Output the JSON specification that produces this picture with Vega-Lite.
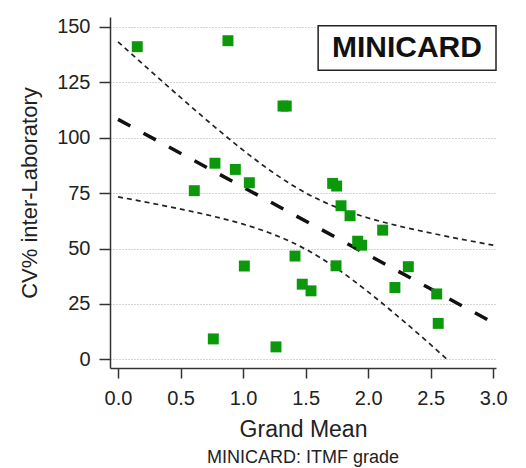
{
  "$schema": "https://vega.github.io/schema/vega-lite/v6.json",
  "width": 386,
  "height": 351,
  "autosize": "none",
  "padding": {"left": 110, "top": 17, "right": 30, "bottom": 100},
  "background": "white",
  "config": {
    "view": {"stroke": null},
    "font": "Liberation Sans",
    "axis": {
      "labelFont": "Liberation Sans",
      "titleFont": "Liberation Sans",
      "labelColor": "#222",
      "titleColor": "#222",
      "domainColor": "#333",
      "tickColor": "#333",
      "domainWidth": 1.5,
      "tickWidth": 1.5,
      "titleFontWeight": "normal"
    }
  },
  "title": {
    "text": "MINICARD: ITMF grade",
    "orient": "bottom",
    "anchor": "middle",
    "font": "Liberation Sans",
    "fontSize": 18,
    "fontWeight": "normal",
    "color": "#222",
    "offset": 8
  },
  "datasets": {
    "pts": [
      {"mean": 0.154, "cv": 141.1},
      {"mean": 0.879, "cv": 143.8},
      {"mean": 1.319, "cv": 114.3},
      {"mean": 1.345, "cv": 114.3},
      {"mean": 0.775, "cv": 88.5},
      {"mean": 0.938, "cv": 85.7},
      {"mean": 1.050, "cv": 79.7},
      {"mean": 0.610, "cv": 76.1},
      {"mean": 1.716, "cv": 79.4},
      {"mean": 1.748, "cv": 78.2},
      {"mean": 1.783, "cv": 69.3},
      {"mean": 1.855, "cv": 64.8},
      {"mean": 2.116, "cv": 58.3},
      {"mean": 1.916, "cv": 53.3},
      {"mean": 1.948, "cv": 51.5},
      {"mean": 1.415, "cv": 46.6},
      {"mean": 1.743, "cv": 42.2},
      {"mean": 1.010, "cv": 42.1},
      {"mean": 2.321, "cv": 41.8},
      {"mean": 1.473, "cv": 33.9},
      {"mean": 1.543, "cv": 30.9},
      {"mean": 2.214, "cv": 32.4},
      {"mean": 2.548, "cv": 29.5},
      {"mean": 2.560, "cv": 16.2},
      {"mean": 0.762, "cv": 9.2},
      {"mean": 1.263, "cv": 5.6}
    ],
    "fit": [
      {"mean": 0.0, "cv": 108.3},
      {"mean": 3.0, "cv": 16.5}
    ],
    "band": [
      {"band": "upper", "mean": 0.0, "cv": 143.3},
      {"band": "upper", "mean": 0.25, "cv": 130.65},
      {"band": "upper", "mean": 0.5, "cv": 118.2},
      {"band": "upper", "mean": 0.75, "cv": 106.0},
      {"band": "upper", "mean": 1.0, "cv": 94.4},
      {"band": "upper", "mean": 1.25, "cv": 83.9},
      {"band": "upper", "mean": 1.5, "cv": 75.1},
      {"band": "upper", "mean": 1.75, "cv": 68.55},
      {"band": "upper", "mean": 2.0, "cv": 63.8},
      {"band": "upper", "mean": 2.25, "cv": 60.1},
      {"band": "upper", "mean": 2.5, "cv": 57.0},
      {"band": "upper", "mean": 2.75, "cv": 54.15},
      {"band": "upper", "mean": 3.0, "cv": 51.5},
      {"band": "lower", "mean": 0.0, "cv": 73.3},
      {"band": "lower", "mean": 0.25, "cv": 70.65},
      {"band": "lower", "mean": 0.5, "cv": 67.8},
      {"band": "lower", "mean": 0.75, "cv": 64.7},
      {"band": "lower", "mean": 1.0, "cv": 61.0},
      {"band": "lower", "mean": 1.25, "cv": 56.2},
      {"band": "lower", "mean": 1.5, "cv": 49.7},
      {"band": "lower", "mean": 1.75, "cv": 40.95},
      {"band": "lower", "mean": 2.0, "cv": 30.4},
      {"band": "lower", "mean": 2.25, "cv": 18.8},
      {"band": "lower", "mean": 2.5, "cv": 6.6},
      {"band": "lower", "mean": 2.63, "cv": 0.0}
    ],
    "label": [
      {"x1": 1.6, "x2": 3.022, "y1": 130.5, "y2": 150.5, "xc": 2.31, "yc": 140.3, "text": "MINICARD"}
    ]
  },
  "layer": [
    {
      "data": {"name": "band"},
      "mark": {"type": "line", "interpolate": "monotone", "color": "#222", "strokeWidth": 1.7, "strokeDash": [5, 4]},
      "encoding": {
        "x": {
          "field": "mean", "type": "quantitative",
          "scale": {"domain": [-0.064, 3.022], "nice": false, "zero": false},
          "axis": {
            "values": [0, 0.5, 1, 1.5, 2, 2.5, 3],
            "format": ".1f",
            "grid": false,
            "tickSize": 10,
            "labelPadding": 10,
            "labelFontSize": 20,
            "title": "Grand Mean",
            "titleFontSize": 23,
            "titlePadding": 10
          }
        },
        "y": {
          "field": "cv", "type": "quantitative",
          "scale": {"domain": [-3.93, 154.5], "nice": false, "zero": false},
          "axis": {
            "values": [0, 25, 50, 75, 100, 125, 150],
            "grid": true,
            "gridColor": "#aaa",
            "gridDash": [1, 2],
            "gridWidth": 1,
            "tickSize": 11,
            "labelPadding": 9,
            "labelFontSize": 20,
            "title": "CV% inter-Laboratory",
            "titleFontSize": 22,
            "titlePadding": 15
          }
        },
        "detail": {"field": "band", "type": "nominal"}
      }
    },
    {
      "data": {"name": "fit"},
      "mark": {"type": "line", "color": "#111", "strokeWidth": 3.5, "strokeDash": [14, 15]},
      "encoding": {
        "x": {"field": "mean", "type": "quantitative"},
        "y": {"field": "cv", "type": "quantitative"}
      }
    },
    {
      "data": {"name": "pts"},
      "mark": {"type": "point", "shape": "square", "filled": true, "size": 120, "color": "#0b990b", "opacity": 1},
      "encoding": {
        "x": {"field": "mean", "type": "quantitative"},
        "y": {"field": "cv", "type": "quantitative"}
      }
    },
    {
      "data": {"name": "label"},
      "mark": {"type": "rect", "fill": "white", "stroke": "#222", "strokeWidth": 1.5},
      "encoding": {
        "x": {"field": "x1", "type": "quantitative"},
        "x2": {"field": "x2"},
        "y": {"field": "y1", "type": "quantitative"},
        "y2": {"field": "y2"}
      }
    },
    {
      "data": {"name": "label"},
      "mark": {"type": "text", "font": "Liberation Sans", "fontWeight": "bold", "fontSize": 30, "color": "#111", "align": "center", "baseline": "middle"},
      "encoding": {
        "x": {"field": "xc", "type": "quantitative"},
        "y": {"field": "yc", "type": "quantitative"},
        "text": {"field": "text"}
      }
    }
  ]
}
